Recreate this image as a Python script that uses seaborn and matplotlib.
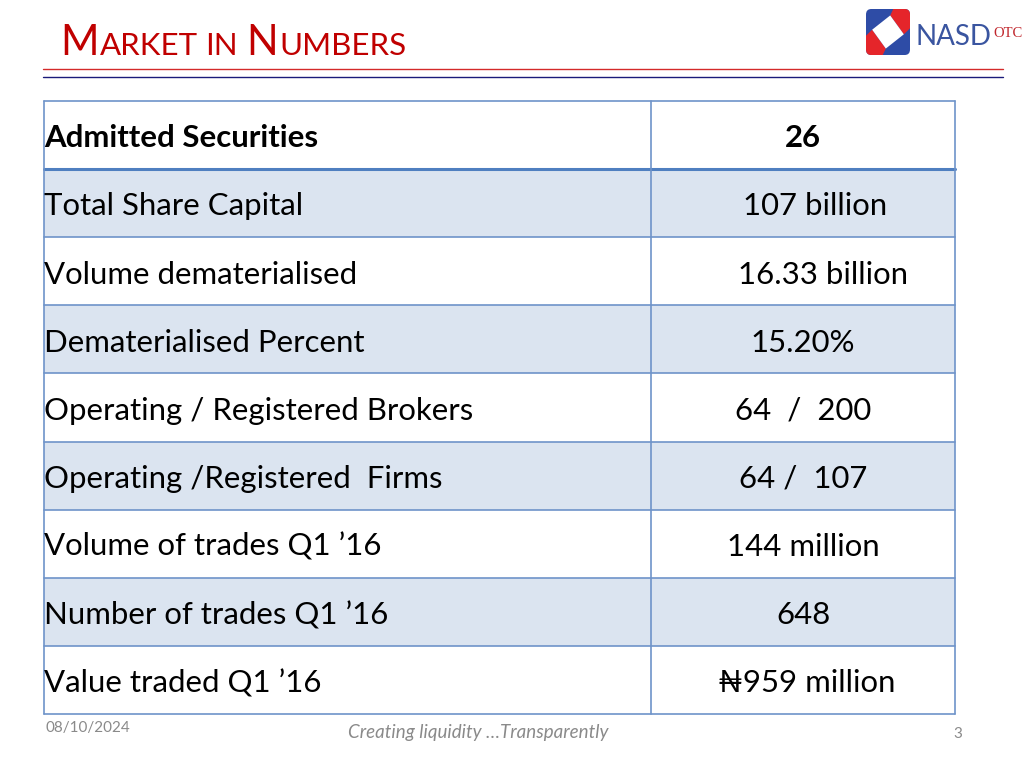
import numpy as np
import pandas as pd
import matplotlib
matplotlib.use("Agg")
import matplotlib.pyplot as plt
import seaborn as sns
from matplotlib.colors import ListedColormap
from matplotlib.patches import FancyBboxPatch, Polygon

# ---------------- data ----------------
title_parts = ["M", "ARKET", "IN", "N", "UMBERS"]
metrics = [
    "Admitted Securities",
    "Total Share Capital",
    "Volume dematerialised",
    "Dematerialised Percent",
    "Operating / Registered Brokers",
    "Operating /Registered  Firms",
    "Volume of trades Q1 \u201916",
    "Number of trades Q1 \u201916",
    "Value traded Q1 \u201916",
]
values = [
    "26",
    "107 billion",
    "16.33 billion",
    "15.20%",
    "64  /  200",
    "64 /  107",
    "144 million",
    "648",
    "\u20a6959 million",
]
footer_date = "08/10/2024"
footer_slogan = "Creating liquidity \u2026Transparently"
page_number = "3"

# ---------------- style ----------------
sns.set_theme(style="white")
FONT = ["Lato", "DejaVu Sans"]
plt.rcParams["font.family"] = FONT

W, H = 1024, 768
fig = plt.figure(figsize=(W / 100, H / 100), dpi=100)
fig.patch.set_facecolor("white")


def fx(px):
    return px / W


def fy(py):
    return 1 - py / H


# ---------------- table ----------------
T_LEFT, T_RIGHT, T_TOP, T_BOT = 44, 955, 101, 714
ax = fig.add_axes([fx(T_LEFT), fy(T_BOT), (T_RIGHT - T_LEFT) / W, (T_BOT - T_TOP) / H])
n = len(metrics)
band = pd.DataFrame(np.array([[i % 2] * 3 for i in range(n)]), index=metrics)
sns.heatmap(band, cmap=ListedColormap(["#FFFFFF", "#DBE4F0"]), vmin=0, vmax=1,
            cbar=False, ax=ax, xticklabels=False, yticklabels=False, linewidths=0)
ax.set_xlabel("")
ax.set_ylabel("")
for s in ax.spines.values():
    s.set_visible(False)

line_col = "#6E93C9"
for i in range(n + 1):
    ax.axhline(i, color="#4F7FC0" if i == 1 else line_col,
               lw=2.2 if i == 1 else 1.2, clip_on=False, zorder=3)
for xv in (0, 2, 3):
    ax.axvline(xv, color=line_col, lw=1.2, clip_on=False, zorder=3)

px_per_unit = (T_RIGHT - T_LEFT) / 3.0
value_dx_px = [0, 12, 20, 0, 0, 0, 0, 0, 4]
FS = 22.4
for i in range(n):
    w = "bold" if i == 0 else "normal"
    ax.text(0.0, i + 0.68, metrics[i], ha="left", va="baseline",
            fontsize=FS, fontweight=w, color="black", family=FONT, zorder=4)
    ax.text(2.5 + value_dx_px[i] / px_per_unit, i + 0.68, values[i], ha="center",
            va="baseline", fontsize=FS, fontweight=w, color="black", family=FONT, zorder=4)

# ---------------- title ----------------
renderer = fig.canvas.get_renderer()
title_col = "#C00000"
sizes = [30, 22.5, 22.5, 30, 22.5]
gaps = [1, 8, 8, 1, 0]
x = 60
for part, size, gap in zip(title_parts, sizes, gaps):
    t = fig.text(fx(x), fy(55), part, fontsize=size, color=title_col,
                 ha="left", va="baseline", family=FONT)
    bb = t.get_window_extent(renderer)
    x = bb.x1 + gap

# rules under the title
fig.add_artist(plt.Line2D([fx(43), fx(1003)], [fy(69), fy(69)], color="#D42A2A", lw=1.0))
fig.add_artist(plt.Line2D([fx(43), fx(1003)], [fy(77), fy(77)], color="#1A1A7A", lw=1.0))

# ---------------- logo ----------------
lax = fig.add_axes([fx(866), fy(55), 44 / W, 46 / H])
lax.set_xlim(0, 1)
lax.set_ylim(0, 1)
lax.axis("off")
box = FancyBboxPatch((0.0, 0.0), 1.0, 1.0, boxstyle="round,pad=0,rounding_size=0.12",
                     fc="#2E4CA6", ec="none")
lax.add_patch(box)
red = "#E5252A"
p1 = Polygon([(0.55, 0.86), (0.62, 1.0), (1.0, 1.0), (1.0, 0.58), (0.86, 0.45)],
             closed=True, fc=red, ec="none")
p2 = Polygon([(0.45, 0.14), (0.38, 0.0), (0.0, 0.0), (0.0, 0.42), (0.14, 0.55)],
             closed=True, fc=red, ec="none")
for p in (p1, p2):
    lax.add_patch(p)
    p.set_clip_path(box)
lax.add_patch(Polygon([(0.55, 0.86), (0.86, 0.45), (0.45, 0.14), (0.14, 0.55)],
                      closed=True, fc="white", ec="none"))

fig.text(fx(915), fy(45), "NASD", fontsize=20, color="#3A55A0", fontweight="normal",
         ha="left", va="baseline", family=FONT)
fig.text(fx(993), fy(37), "OTC", fontsize=10.5, color="#C0262C", ha="left",
         va="baseline", family=["Liberation Serif", "DejaVu Serif"])

# ---------------- footer ----------------
gray = "#8A8A8A"
fig.text(fx(46), fy(732), footer_date, fontsize=11, color=gray, ha="left", va="baseline")
fig.text(fx(478), fy(738), footer_slogan, fontsize=13.5, color=gray, style="italic",
         ha="center", va="baseline")
fig.text(fx(962), fy(738), page_number, fontsize=11, color=gray, ha="right", va="baseline")

fig.savefig("out.png", dpi=100, facecolor="white")
